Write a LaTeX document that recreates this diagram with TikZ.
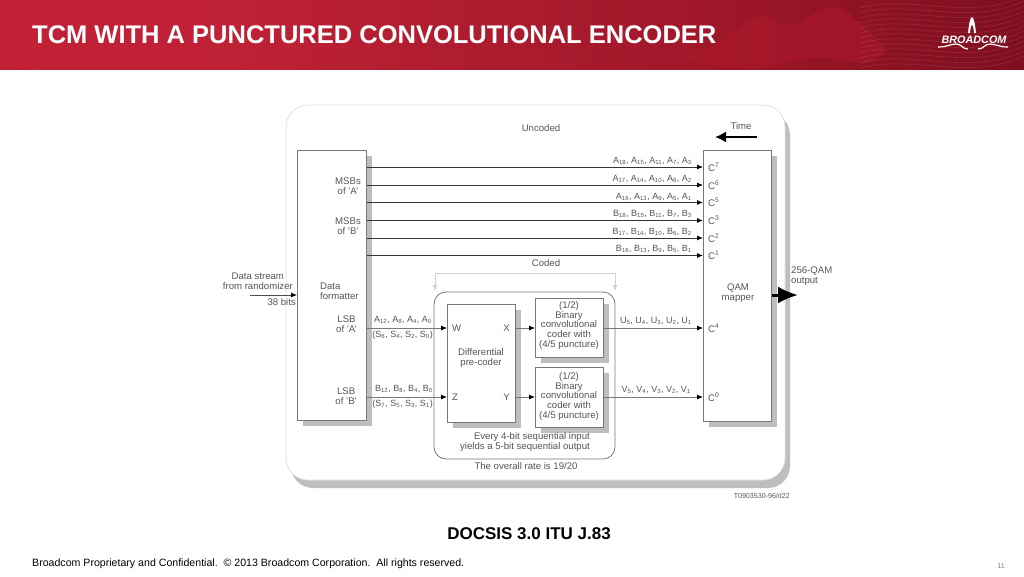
\documentclass[tikz,border=0pt]{standalone}
\usepackage{fontspec}
\setmainfont{Liberation Sans}
\usepackage{xcolor}
\usetikzlibrary{arrows.meta,calc,positioning,shadows}
\definecolor{dtext}{RGB}{85,85,85}
\definecolor{dline}{RGB}{120,120,120}
\definecolor{dshade}{RGB}{190,190,190}
\definecolor{wred}{RGB}{176,24,44}
\pgfdeclarehorizontalshading{headshade}{100bp}{
  rgb(0bp)=(0.66,0.11,0.18);
  rgb(26bp)=(0.76,0.13,0.21);
  rgb(36bp)=(0.75,0.13,0.21);
  rgb(60bp)=(0.62,0.09,0.16);
  rgb(78bp)=(0.47,0.05,0.11);
  rgb(100bp)=(0.56,0.07,0.13)}
\tikzset{
  blk/.style={draw=dline,fill=white,line width=0.8pt,anchor=north west,inner sep=0pt,
    drop shadow={shadow xshift=5.5pt,shadow yshift=-5.5pt,fill=dshade,opacity=1}},
  lab/.style={text=dtext,font=\fontsize{9.6}{9.8}\selectfont,inner sep=0pt,align=center},
  seq/.style={text=dtext,font=\fontsize{9}{10}\selectfont,inner sep=0pt,anchor=east},
  sig/.style={-{Latex[length=6pt,width=5pt,black]},line width=0.8pt,black!80},
  sigg/.style={-{Latex[length=6pt,width=5pt,black]},line width=0.8pt,dline},
  cod/.style={-{Latex[length=6pt,width=5pt]},line width=0.9pt,black!18},
  rib/.style={white,opacity=0.14,line width=0.4pt}
}
\newcommand{\sbs}[2]{#1\textsubscript{#2}}
\newcommand{\sps}[2]{#1\textsuperscript{#2}}
\begin{document}
\begin{tikzpicture}[x=1pt,y=-1pt]
  \useasboundingbox (0,0) rectangle (1024,576);
  % header
  \shade[shading=headshade] (0,0) rectangle (1024,69);
  \fill[wred,opacity=0.5] (680,58) .. controls (700,52) and (720,45) .. (740,28) .. controls (752,17) and (765,12) .. (775,20) .. controls (785,28) and (795,27) .. (810,16) .. controls (825,6) and (840,4) .. (850,14) .. controls (865,30) and (880,40) .. (885,50) .. controls (880,62) and (860,66) .. (840,60) .. controls (800,52) and (780,69) .. (750,69) .. controls (725,69) and (700,62) .. (680,58) -- cycle;
  \foreach \i in {0,...,12}
    \draw[rib] (860,{8+\i*5}) .. controls (910,{\i*5-6}) and (970,{\i*5+22}) .. (1024,{\i*5-4});
  \node[anchor=west,inner sep=0pt,text=white,font=\fontsize{25.5}{30}\selectfont\bfseries] (title) at (32,35) {TCM WITH A PUNCTURED CONVOLUTIONAL ENCODER};
  % logo
  \fill[white] (968,33) .. controls (969,24) and (970,18) .. (972,17) .. controls (974,18) and (975,24) .. (976,33) -- (974,33) .. controls (973.5,28) and (973,25) .. (972,25) .. controls (971,25) and (970.5,28) .. (970,33) -- cycle;
  \node[inner sep=0pt,text=white,font=\fontsize{10.8}{13}\selectfont\bfseries\itshape] (logo) at (974,39.5) {BROADCOM};
  \draw[white,line width=1.2pt] (938,47) .. controls (948,47) and (950,44) .. (956,44) .. controls (962,44) and (962,49) .. (968,49);
  \draw[white,line width=1.2pt] (978,49) .. controls (984,49) and (984,44) .. (990,44) .. controls (996,44) and (998,47) .. (1008,47);
  % panel
  \fill[dshade,rounded corners=22pt] (291,113) rectangle (790,488);
  \draw[black!12,fill=white,rounded corners=22pt,line width=0.8pt] (286,105) rectangle (785,480);
  % blocks
  \node[blk,minimum width=69pt,minimum height=270pt] (fmt) at (297,150) {};
  \node[blk,minimum width=68pt,minimum height=271pt] (qam) at (703,150) {};
  \draw[cod] (435,273) -- (435,291);
  \draw[cod] (435,273) -- (615,273) -- (615,291);
  \draw[dline,rounded corners=12pt,line width=0.8pt] (434,292) rectangle (615,459);
  \node[blk,minimum width=68pt,minimum height=118pt] (pre) at (447,304) {};
  \node[blk,minimum width=68pt,minimum height=59pt] (cc1) at (535,298) {};
  \node[blk,minimum width=68pt,minimum height=60pt] (cc2) at (535,367) {};
  % texts in blocks
  \node[lab,anchor=east] (msa) at (361,186) {MSBs\\of 'A'};
  \node[lab,anchor=east] (msb) at (361,226) {MSBs\\of 'B'};
  \node[lab,anchor=west,align=left] (dat) at (320,291) {Data\\formatter};
  \node[lab,anchor=east] (lsa) at (357,324) {LSB\\of 'A'};
  \node[lab,anchor=east] (lsb) at (357,396) {LSB\\of 'B'};
  \node[lab] (qtx) at (738,293) {QAM\\mapper};
  \node[lab] (dif) at (481,358) {Differential\\pre-coder};
  \node[lab] (c1t) at (569,325.5) {(1/2)\\Binary\\convolutional\\coder with\\(4/5 puncture)};
  \node[lab] (c2t) at (569,396.5) {(1/2)\\Binary\\convolutional\\coder with\\(4/5 puncture)};
  \node[lab,anchor=west] (w) at (452,328) {W};
  \node[lab,anchor=west] (z) at (452,397) {Z};
  \node[lab,anchor=east] (x) at (510,328) {X};
  \node[lab,anchor=east] (y) at (510,397) {Y};
  \node[lab,anchor=west] (c7) at (708,167) {\sps{C}{7}};
  \node[lab,anchor=west] (c6) at (708,185) {\sps{C}{6}};
  \node[lab,anchor=west] (c5) at (708,202.5) {\sps{C}{5}};
  \node[lab,anchor=west] (c3) at (708,220.5) {\sps{C}{3}};
  \node[lab,anchor=west] (c2) at (708,238) {\sps{C}{2}};
  \node[lab,anchor=west] (c1) at (708,255.5) {\sps{C}{1}};
  \node[lab,anchor=west] (c4) at (708,328) {\sps{C}{4}};
  \node[lab,anchor=west] (c0) at (708,397) {\sps{C}{0}};
  % uncoded lines
  \draw[sig] (fmt.east |- c7) -- (qam.west |- c7);
  \draw[sig] (fmt.east |- c6) -- (qam.west |- c6);
  \draw[sig] (fmt.east |- c5) -- (qam.west |- c5);
  \draw[sig] (fmt.east |- c3) -- (qam.west |- c3);
  \draw[sig] (fmt.east |- c2) -- (qam.west |- c2);
  \draw[sig] (fmt.east |- c1) -- (qam.west |- c1);
  % coded lines
  \draw[sigg] (fmt.east |- w) -- (pre.west |- w);
  \draw[sigg] (fmt.east |- z) -- (pre.west |- z);
  \draw[sigg] (pre.east |- x) -- (cc1.west |- x);
  \draw[sigg] (pre.east |- y) -- (cc2.west |- y);
  \draw[sigg] (cc1.east |- c4) -- (qam.west |- c4);
  \draw[sigg] (cc2.east |- c0) -- (qam.west |- c0);
  % sequences
  \node[seq] (a1) at (692,161) {\sbs{A}{18}, \sbs{A}{15}, \sbs{A}{11}, \sbs{A}{7}, \sbs{A}{3}};
  \node[seq] (a2) at (692,178.5) {\sbs{A}{17}, \sbs{A}{14}, \sbs{A}{10}, \sbs{A}{6}, \sbs{A}{2}};
  \node[seq] (a3) at (692,196.5) {\sbs{A}{16}, \sbs{A}{13}, \sbs{A}{9}, \sbs{A}{5}, \sbs{A}{1}};
  \node[seq] (b1) at (692,214) {\sbs{B}{18}, \sbs{B}{15}, \sbs{B}{11}, \sbs{B}{7}, \sbs{B}{3}};
  \node[seq] (b2) at (692,231.5) {\sbs{B}{17}, \sbs{B}{14}, \sbs{B}{10}, \sbs{B}{6}, \sbs{B}{2}};
  \node[seq] (b3) at (692,249) {\sbs{B}{16}, \sbs{B}{13}, \sbs{B}{9}, \sbs{B}{5}, \sbs{B}{1}};
  \node[seq] (la) at (432,319.5) {\sbs{A}{12}, \sbs{A}{8}, \sbs{A}{4}, \sbs{A}{0}};
  \node[seq] (sa) at (433,335) {(\sbs{S}{6}, \sbs{S}{4}, \sbs{S}{2}, \sbs{S}{0})};
  \node[seq] (lb) at (433,389) {\sbs{B}{12}, \sbs{B}{8}, \sbs{B}{4}, \sbs{B}{0}};
  \node[seq] (sb) at (433,404) {(\sbs{S}{7}, \sbs{S}{5}, \sbs{S}{3}, \sbs{S}{1})};
  \node[seq] (us) at (692,321) {\sbs{U}{5}, \sbs{U}{4}, \sbs{U}{3}, \sbs{U}{2}, \sbs{U}{1}};
  \node[seq] (vs) at (691,390) {\sbs{V}{5}, \sbs{V}{4}, \sbs{V}{3}, \sbs{V}{2}, \sbs{V}{1}};
  % free texts
  \node[lab] (unc) at (541,128) {Uncoded};
  \node[lab] (cdd) at (546,263) {Coded};
  \node[lab] (tim) at (741,126.5) {Time};
  \node[lab,align=right,anchor=east] (evr) at (590,442) {Every 4-bit sequential input\\yields a 5-bit sequential output};
  \node[lab] (rat) at (526,466) {The overall rate is 19/20};
  \node[lab,align=left,anchor=west] (qo) at (791,276) {256-QAM\\output};
  \node[lab,align=center,anchor=east] (dst) at (293,281) {Data stream\\from randomizer};
  \node[lab,anchor=east] (bts) at (296,302) {38 bits};
  \node[text=dtext,inner sep=0pt,font=\fontsize{7.1}{8}\selectfont,anchor=east] (tid) at (790,496) {T0903530-96/d22};
  % arrows with free ends
  \coordinate (tstart) at (757,137);
  \coordinate (tend) at (715,137);
  \draw[-{Latex[length=11pt,width=11pt]},line width=1.8pt,black] (tstart) -- (tend);
  \coordinate (dstart) at (250,295);
  \draw[sig,black!70] (dstart) -- (fmt.west |- dstart);
  \coordinate (qout) at (798,295);
  \draw[-{Latex[length=20pt,width=17pt]},line width=3pt,black] (qam.east |- qout) -- (qout);
  % footer
  \node[inner sep=0pt,font=\fontsize{17}{20}\selectfont\bfseries] (doc) at (529,534) {DOCSIS 3.0 ITU J.83};
  \node[anchor=west,inner sep=0pt,font=\fontsize{10.6}{12}\selectfont] (foot) at (32,563.5) {Broadcom Proprietary and Confidential.~~© 2013 Broadcom Corporation.~~All rights reserved.};
  \node[inner sep=0pt,text=black!50,font=\fontsize{7}{8}\selectfont] (pg) at (1001,566) {11};
\end{tikzpicture}
\end{document}
